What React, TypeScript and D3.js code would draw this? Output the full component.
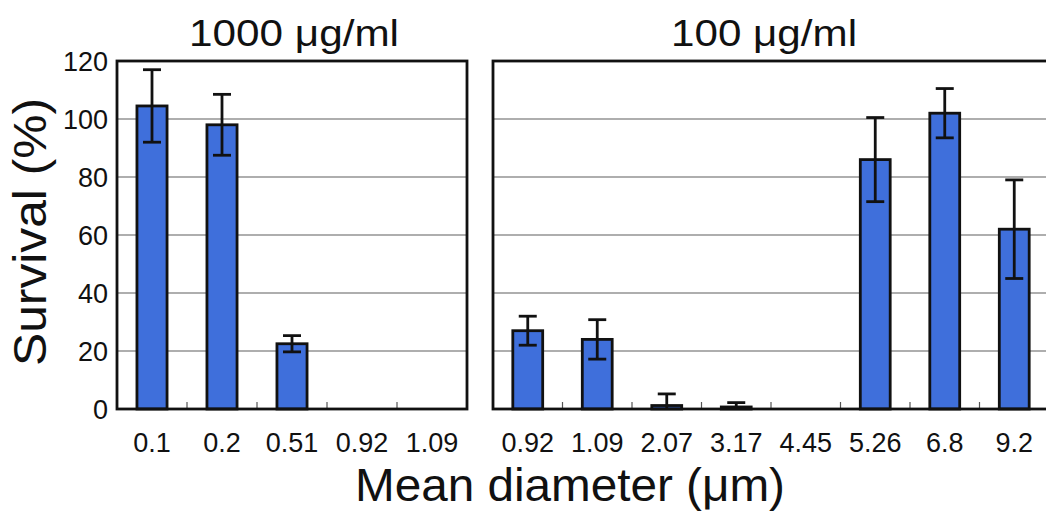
import { useRef, useEffect } from "react";
import * as d3 from "d3";

const yTicks = [0, 20, 40, 60, 80, 100, 120];

const leftTitle = "1000 \u03BCg/ml";
const leftCategories = ["0.1", "0.2", "0.51", "0.92", "1.09"];
const leftValues = [104.5, 98, 22.5, 0, 0];
const leftErrors = [12.5, 10.5, 2.8, 0, 0];

const rightTitle = "100 \u03BCg/ml";
const rightCategories = ["0.92", "1.09", "2.07", "3.17", "4.45", "5.26", "6.8", "9.2"];
const rightValues = [27, 24, 1.2, 0.7, 0, 86, 102, 62];
const rightErrors = [5, 6.8, 4, 1.5, 0, 14.5, 8.5, 17];

const FONT = "'Liberation Sans', Arial, Helvetica, sans-serif";
const BAR_FILL = "#3f6fdb";
const INK = "#111";

export default function App() {
  const svgRef = useRef<SVGSVGElement>(null);

  useEffect(() => {
    const width = 1046;
    const height = 513;
    const top = 61;
    const bottom = 409;

    const svg = d3.select(svgRef.current);
    svg.attr("viewBox", `0 0 ${width} ${height}`);
    svg.selectAll("*").remove();

    svg.append("rect").attr("width", width).attr("height", height).attr("fill", "#fff");

    const y = d3.scaleLinear().domain([0, 120]).range([bottom, top]);

    const panels = [
      { x0: 117, x1: 467, title: leftTitle, titleX: 189, titleW: 210, cats: leftCategories, vals: leftValues, errs: leftErrors, yLabels: true },
      { x0: 493, x1: 1049, title: rightTitle, titleX: 671, titleW: 186, cats: rightCategories, vals: rightValues, errs: rightErrors, yLabels: false },
    ];

    panels.forEach((p) => {
      const g = svg.append("g");
      const x = d3
        .scaleBand<string>()
        .domain(p.cats)
        .range([p.x0, p.x1])
        .paddingInner(0.57)
        .paddingOuter(0.285);
      const step = x.step();

      // grid lines
      g.selectAll(".grid")
        .data(yTicks.filter((t) => t > 0 && t < 120))
        .enter()
        .append("line")
        .attr("x1", p.x0)
        .attr("x2", p.x1)
        .attr("y1", (d) => y(d))
        .attr("y2", (d) => y(d))
        .attr("stroke", "#5e5e5e")
        .attr("stroke-width", 1.2);

      // minor ticks between categories
      g.selectAll(".minor")
        .data(p.cats.slice(1))
        .enter()
        .append("line")
        .attr("x1", (d) => (x(d) as number) - (step - x.bandwidth()) / 2)
        .attr("x2", (d) => (x(d) as number) - (step - x.bandwidth()) / 2)
        .attr("y1", bottom)
        .attr("y2", bottom - 7)
        .attr("stroke", "#555")
        .attr("stroke-width", 1.2);

      // bars
      g.selectAll(".bar")
        .data(p.vals.map((v, i) => ({ c: p.cats[i], v })).filter((d) => d.v > 0))
        .enter()
        .append("rect")
        .attr("x", (d) => x(d.c) as number)
        .attr("width", x.bandwidth())
        .attr("y", (d) => y(d.v))
        .attr("height", (d) => bottom - y(d.v))
        .attr("fill", BAR_FILL)
        .attr("stroke", INK)
        .attr("stroke-width", 2.8);

      // error bars
      const errData = p.vals
        .map((v, i) => ({ c: p.cats[i], v, e: p.errs[i] }))
        .filter((d) => d.e > 0);
      const cx = (c: string) => (x(c) as number) + x.bandwidth() / 2;
      const capW = 9;
      g.selectAll(".err")
        .data(errData)
        .enter()
        .append("line")
        .attr("x1", (d) => cx(d.c))
        .attr("x2", (d) => cx(d.c))
        .attr("y1", (d) => y(d.v + d.e))
        .attr("y2", (d) => y(Math.max(0, d.v - d.e)))
        .attr("stroke", INK)
        .attr("stroke-width", 2.8);
      g.selectAll(".capTop")
        .data(errData)
        .enter()
        .append("line")
        .attr("x1", (d) => cx(d.c) - capW)
        .attr("x2", (d) => cx(d.c) + capW)
        .attr("y1", (d) => y(d.v + d.e))
        .attr("y2", (d) => y(d.v + d.e))
        .attr("stroke", INK)
        .attr("stroke-width", 2.8);
      g.selectAll(".capBot")
        .data(errData.filter((d) => d.v - d.e > 0))
        .enter()
        .append("line")
        .attr("x1", (d) => cx(d.c) - capW)
        .attr("x2", (d) => cx(d.c) + capW)
        .attr("y1", (d) => y(d.v - d.e))
        .attr("y2", (d) => y(d.v - d.e))
        .attr("stroke", INK)
        .attr("stroke-width", 2.8);

      // frame
      g.append("rect")
        .attr("x", p.x0)
        .attr("y", top)
        .attr("width", p.x1 - p.x0)
        .attr("height", bottom - top)
        .attr("fill", "none")
        .attr("stroke", INK)
        .attr("stroke-width", 2.8);

      // category labels
      g.selectAll(".cat")
        .data(p.cats)
        .enter()
        .append("text")
        .attr("x", (d) => cx(d))
        .attr("y", 452)
        .attr("text-anchor", "middle")
        .attr("fill", INK)
        .attr("font-size", "27px")
        .attr("font-family", FONT)
        .text((d) => d);

      // title
      g.append("text")
        .attr("x", p.titleX)
        .attr("y", 46)
        .attr("fill", INK)
        .attr("font-size", "37px")
        .attr("font-family", FONT)
        .attr("textLength", p.titleW)
        .attr("lengthAdjust", "spacingAndGlyphs")
        .text(p.title);

      if (p.yLabels) {
        g.selectAll(".ytick")
          .data(yTicks)
          .enter()
          .append("text")
          .attr("x", 108)
          .attr("y", (d) => y(d))
          .attr("dy", "0.36em")
          .attr("text-anchor", "end")
          .attr("fill", INK)
          .attr("font-size", "27px")
          .attr("font-family", FONT)
          .text((d) => d);
      }
    });

    // axis titles
    svg
      .append("text")
      .attr("transform", `translate(46,${232}) rotate(-90)`)
      .attr("text-anchor", "middle")
      .attr("fill", INK)
      .attr("font-size", "46px")
      .attr("font-family", FONT)
      .attr("textLength", 268)
      .attr("lengthAdjust", "spacingAndGlyphs")
      .text("Survival (%)");

    svg
      .append("text")
      .attr("x", 570)
      .attr("y", 501)
      .attr("text-anchor", "middle")
      .attr("fill", INK)
      .attr("font-size", "46px")
      .attr("font-family", FONT)
      .attr("textLength", 430)
      .attr("lengthAdjust", "spacingAndGlyphs")
      .text("Mean diameter (\u03BCm)");
  }, []);

  return (
    <svg
      ref={svgRef}
      width={1046}
      height={513}
      style={{ position: "absolute", left: 0, top: 0, display: "block" }}
    />
  );
}
